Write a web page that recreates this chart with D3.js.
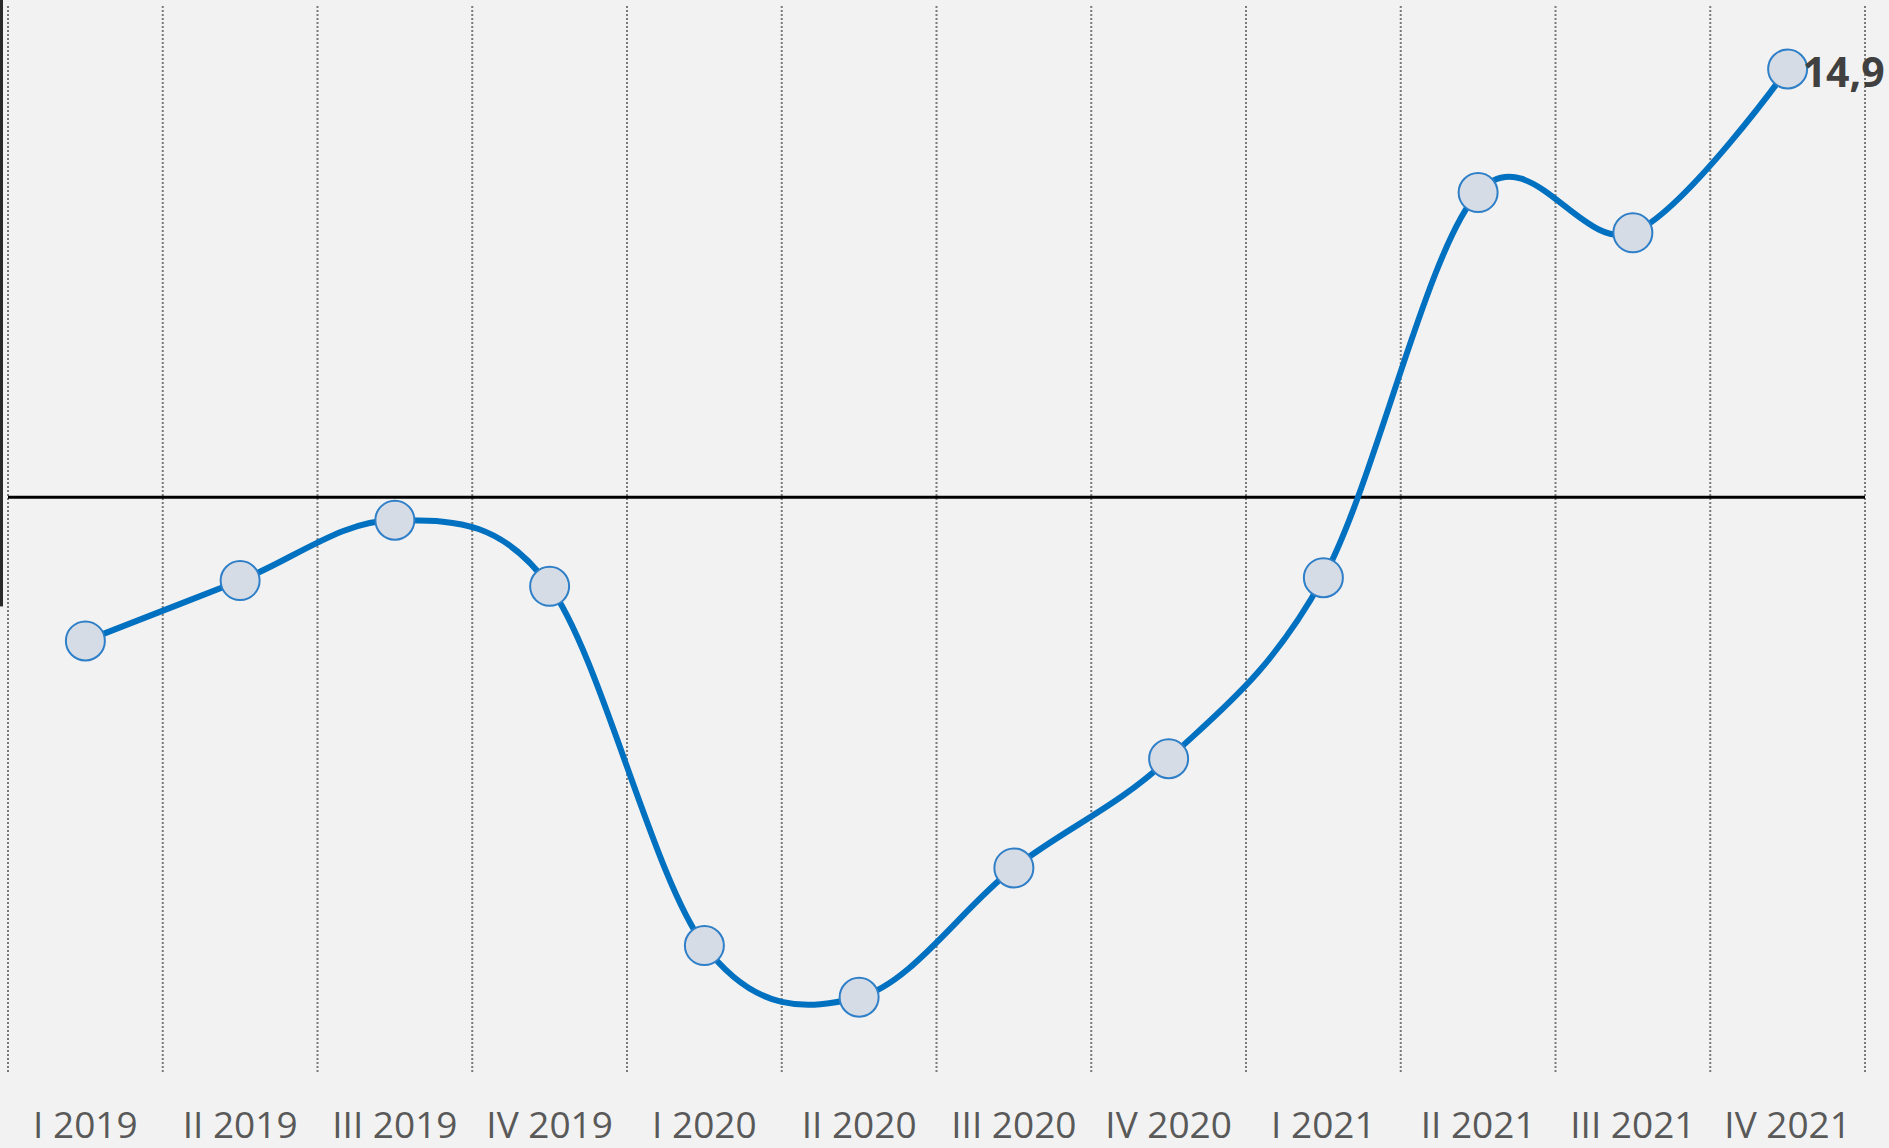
<!DOCTYPE html>
<html>
<head>
<meta charset="utf-8">
<script src="https://cdn.jsdelivr.net/npm/d3@7"></script>
<style>
  html, body { margin: 0; padding: 0; background: #f2f2f2; }
  svg { display: block; }
</style>
</head>
<body>
<div id="chart"></div>
<script>
// quarters and growth values (%)
const quarters = ['I 2019', 'II 2019', 'III 2019', 'IV 2019', 'I 2020', 'II 2020',
  'III 2020', 'IV 2020', 'I 2021', 'II 2021', 'III 2021', 'IV 2021'];
const values = [-5.0, -2.9, -0.8, -3.1, -15.6, -17.4, -12.9, -9.1, -2.8, 10.6, 9.2, 14.9];
const lastLabel = '14,9';

const width = 1889, height = 1148;
const plotLeft = 8, plotRight = 1865, plotTop = 0, plotBottom = 1072;

const svg = d3.select('#chart').append('svg').attr('width', width).attr('height', height);
svg.append('rect').attr('width', width).attr('height', height).attr('fill', '#f2f2f2');

const x = d3.scaleBand().domain(quarters).range([plotLeft, plotRight]);
const y = d3.scaleLinear().domain([-20, 17.3]).range([plotBottom, plotTop]);

// cropped axis remnant on the far left
svg.append('rect').attr('x', 0).attr('y', 0).attr('width', 3).attr('height', y(-3.8))
  .attr('fill', '#2a2a2a');

// dotted vertical grid at category boundaries
const bounds = quarters.map(q => x(q)).concat([plotRight]);
svg.append('g').selectAll('line').data(bounds).join('line')
  .attr('x1', d => d).attr('x2', d => d)
  .attr('y1', 6).attr('y2', plotBottom)
  .attr('stroke', '#7a7a7a').attr('stroke-width', 2).attr('stroke-dasharray', '2,2');

// zero line
svg.append('line')
  .attr('x1', plotLeft).attr('x2', plotRight)
  .attr('y1', y(0)).attr('y2', y(0))
  .attr('stroke', '#000').attr('stroke-width', 3);

const cx = q => x(q) + x.bandwidth() / 2;

const line = d3.line()
  .x((d, i) => cx(quarters[i]))
  .y(d => y(d))
  .curve(d3.curveCardinal);

svg.append('path').datum(values)
  .attr('d', line)
  .attr('fill', 'none')
  .attr('stroke', '#0070c0')
  .attr('stroke-width', 6);

svg.append('g').selectAll('circle').data(values).join('circle')
  .attr('cx', (d, i) => cx(quarters[i]))
  .attr('cy', d => y(d))
  .attr('r', 19.5)
  .attr('fill', '#d6dce5')
  .attr('stroke', '#2e7fc8')
  .attr('stroke-width', 2);

// value label on last point
const li = values.length - 1;
svg.append('text')
  .attr('x', cx(quarters[li]) + 15)
  .attr('y', y(values[li]) + 18)
  .attr('font-family', '"Open Sans", sans-serif')
  .attr('font-weight', 'bold')
  .attr('font-size', 41)
  .attr('fill', '#404040')
  .text(lastLabel);

// category labels
svg.append('g').selectAll('text').data(quarters).join('text')
  .attr('x', d => cx(d))
  .attr('y', 1138)
  .attr('text-anchor', 'middle')
  .attr('font-family', '"Open Sans", sans-serif')
  .attr('font-size', 37)
  .attr('fill', '#595959')
  .text(d => d);
</script>
</body>
</html>
